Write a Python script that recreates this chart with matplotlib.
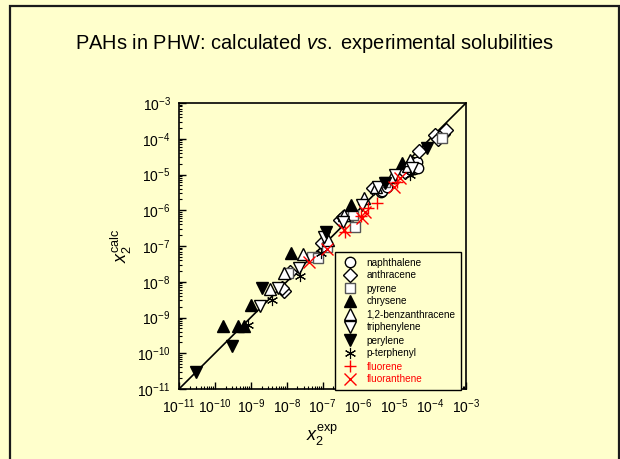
#!/usr/bin/env python3
"""PAHs in PHW: calculated vs experimental solubilities (log-log parity plot)."""

import matplotlib
matplotlib.use("Agg")
import matplotlib.pyplot as plt
import numpy as np
from matplotlib.patches import Rectangle
from matplotlib.ticker import LogLocator, NullFormatter

plt.rcParams["font.family"] = ["Liberation Sans", "DejaVu Sans"]
plt.rcParams["mathtext.fontset"] = "custom"
plt.rcParams["mathtext.rm"] = "Liberation Sans"
plt.rcParams["mathtext.it"] = "Liberation Sans:italic"
plt.rcParams["mathtext.bf"] = "Liberation Sans:bold"

BG = "#FFFFCC"

# log10 of mole-fraction solubilities, (experimental, calculated)
naphthalene_exp = [-5.37, -5.35, -5.20, -4.60, -4.51, -4.45, -4.37, -4.33]
naphthalene_calc = [-5.48, -5.46, -5.35, -4.90, -4.65, -4.85, -4.65, -4.83]
anthracene_exp = [-8.06, -8.14, -7.90, -7.01, -6.51, -6.42, -5.58, -4.70, -4.30, -3.86, -3.77, -3.63, -3.56]
anthracene_calc = [-8.25, -8.18, -7.74, -6.93, -6.27, -6.18, -5.39, -4.93, -4.35, -3.90, -4.00, -3.86, -3.76]
pyrene_exp = [-7.95, -7.30, -7.13, -6.88, -6.30, -6.14, -6.09, -5.26, -3.68]
pyrene_calc = [-7.75, -7.30, -7.33, -7.02, -6.15, -6.13, -6.48, -5.20, -3.97]
chrysene_exp = [-9.78, -9.35, -9.20, -8.99, -7.88, -6.20, -4.79]
chrysene_calc = [-9.23, -9.23, -9.23, -8.65, -7.20, -5.86, -4.67]
benzanthracene_exp = [-8.46, -8.06, -7.53, -6.84, -6.40, -5.83, -5.50, -5.07, -4.61, -4.56]
benzanthracene_calc = [-8.21, -7.76, -7.22, -6.83, -6.13, -5.67, -5.35, -5.07, -4.77, -4.60]
triphenylene_exp = [-8.74, -8.23, -7.65, -6.95, -6.42, -5.91, -5.46, -4.98, -4.51]
triphenylene_calc = [-8.69, -8.18, -7.62, -6.74, -6.32, -5.86, -5.34, -5.02, -4.83]
perylene_exp = [-10.53, -9.53, -8.68, -6.91, -5.26, -4.09]
perylene_calc = [-10.53, -9.81, -8.18, -6.60, -5.25, -4.27]
terphenyl_exp = [-9.07, -8.42, -7.63, -7.04, -4.56]
terphenyl_calc = [-9.20, -8.51, -7.84, -7.20, -5.02]
fluorene_exp = [-6.37, -5.93, -5.72, -5.47, -4.93]
fluorene_calc = [-6.60, -6.16, -5.95, -5.79, -5.20]
fluoranthene_exp = [-7.38, -6.88, -6.40, -5.91, -5.81, -5.02, -4.84]
fluoranthene_calc = [-7.45, -7.07, -6.55, -6.23, -6.04, -5.34, -5.11]

diagonal = [1e-11, 1e-3]

series = [
    ("naphthalene", naphthalene_exp, naphthalene_calc, dict(marker="o", ms=7.5, mfc="white", mec="black")),
    ("anthracene", anthracene_exp, anthracene_calc, dict(marker="D", ms=7, mfc="white", mec="black")),
    ("pyrene", pyrene_exp, pyrene_calc, dict(marker="s", ms=7.5, mfc="white", mec="#555555")),
    ("chrysene", chrysene_exp, chrysene_calc, dict(marker="^", ms=9, mfc="black", mec="black")),
    ("1,2-benzanthracene", benzanthracene_exp, benzanthracene_calc, dict(marker="^", ms=9, mfc="white", mec="black")),
    ("triphenylene", triphenylene_exp, triphenylene_calc, dict(marker="v", ms=9, mfc="white", mec="black")),
    ("perylene", perylene_exp, perylene_calc, dict(marker="v", ms=9, mfc="black", mec="black")),
    ("p-terphenyl", terphenyl_exp, terphenyl_calc, dict(marker=(6, 2, 0), ms=8, mec="black", mew=0.8)),
    ("fluorene", fluorene_exp, fluorene_calc, dict(marker="+", ms=9, mec="red", mew=1)),
    ("fluoranthene", fluoranthene_exp, fluoranthene_calc, dict(marker="x", ms=8, mec="red", mew=1)),
]

fig = plt.figure(figsize=(6.2, 4.59), dpi=100, facecolor=BG)
fig.add_artist(Rectangle((10/620, -0.02), 609/620, 1.02-6/459, transform=fig.transFigure,
                         fill=False, edgecolor="#1a1a1a", linewidth=1.6))
fig.text(0.508, 0.906, r"PAHs in PHW: calculated $\it{vs.}$ experimental solubilities",
         ha="center", va="center", fontsize=14.4)

ax = fig.add_axes([179/620, 1-389/459, 287/620, 286/459], facecolor=BG)
ax.plot(diagonal, diagonal, color="black", linewidth=1.2, zorder=1)
for label, xs, ys, style in series:
    ax.plot(10**np.array(xs), 10**np.array(ys), linestyle="none", label=label, zorder=3, **style)

ax.set_xscale("log"); ax.set_yscale("log")
ax.set_xlim(1e-11, 1e-3); ax.set_ylim(1e-11, 1e-3)
for axis in (ax.xaxis, ax.yaxis):
    axis.set_major_locator(LogLocator(base=10, numticks=20))
    axis.set_minor_locator(LogLocator(base=10, subs=np.arange(2, 10), numticks=20))
    axis.set_minor_formatter(NullFormatter())
ax.tick_params(which="major", direction="in", length=5, width=1, labelsize=10, pad=6, top=False, right=False)
ax.tick_params(which="minor", direction="in", length=2.5, width=0.8, top=False, right=False)
for spine in ax.spines.values():
    spine.set_linewidth(1.2)

ax.set_xlabel(r"$x_2^{\mathrm{exp}}$", fontsize=13, labelpad=5)
ax.set_ylabel(r"$x_2^{\mathrm{calc}}$", fontsize=13, labelpad=2)

leg = ax.legend(loc="upper left", bbox_to_anchor=((335-179)/287, (389-252)/286), borderaxespad=0,
                fontsize=7.2, frameon=True, fancybox=False, edgecolor="black", facecolor=BG, framealpha=1,
                handlelength=1.8, handletextpad=0.8, labelspacing=0.3, borderpad=0.55, numpoints=1)
leg.get_frame().set_linewidth(1)
for text in leg.get_texts()[-2:]:
    text.set_color("red")

fig.savefig("out.png", dpi=100, facecolor=BG)
